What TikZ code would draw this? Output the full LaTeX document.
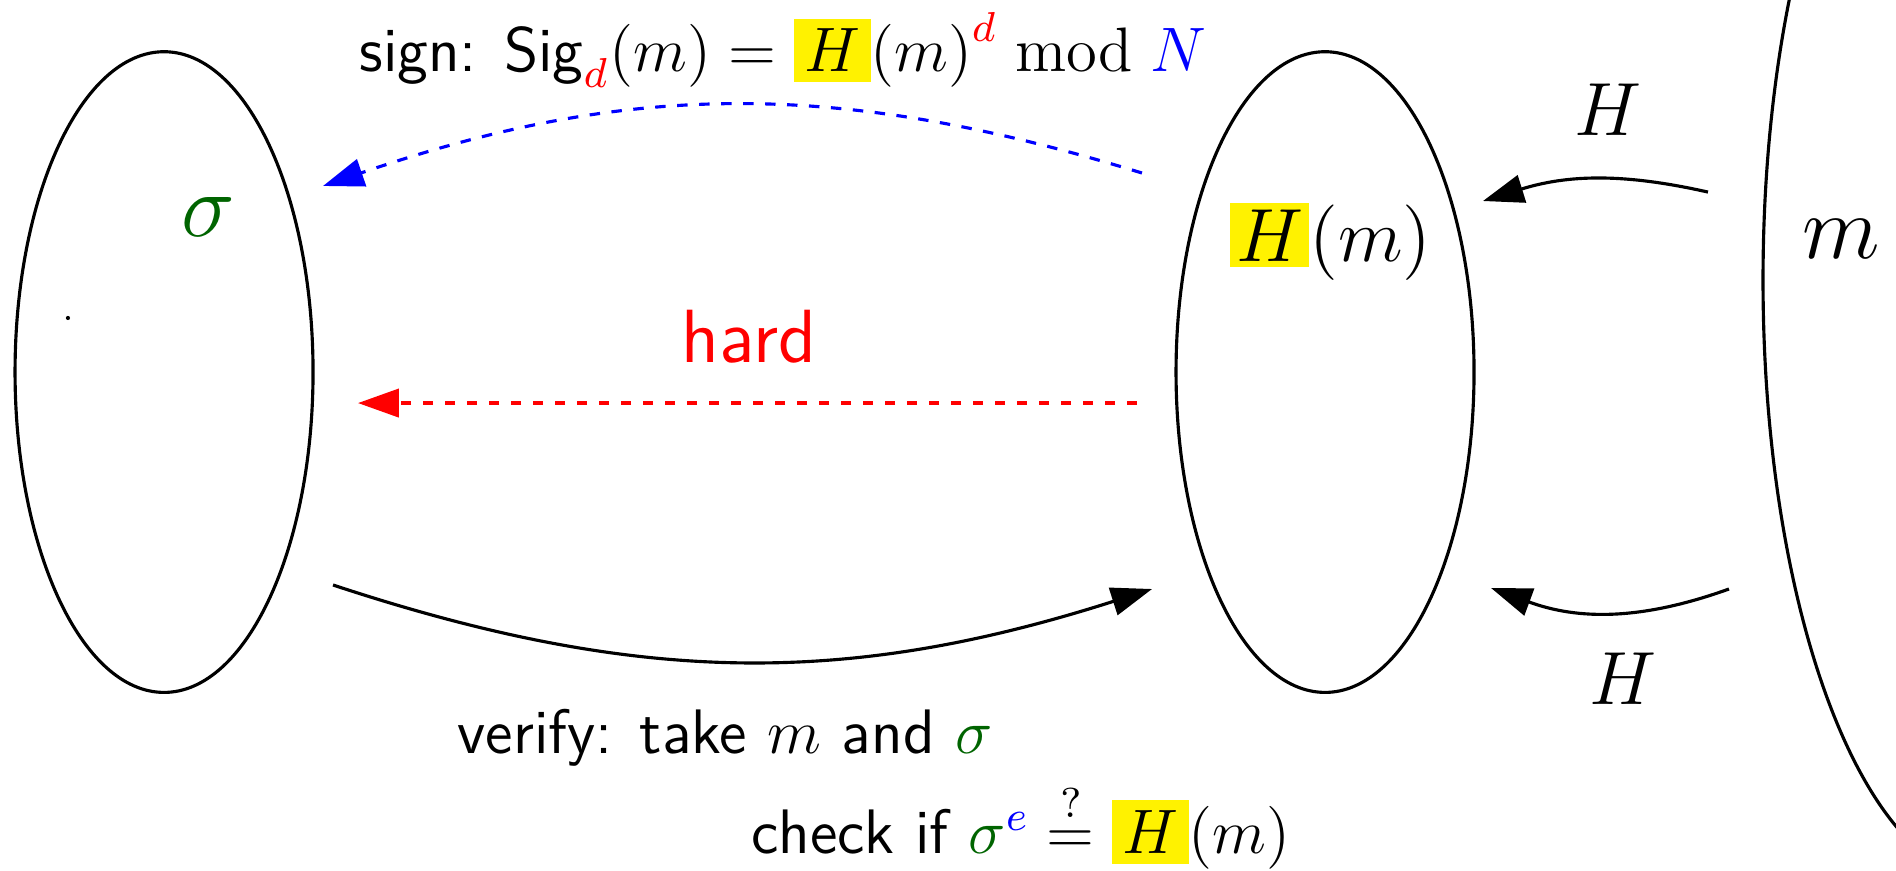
\documentclass[tikz,border=0pt]{standalone}
\usepackage{amsmath,amssymb}
\usepackage{xcolor}
\usetikzlibrary{shapes.geometric,arrows.meta}

\definecolor{sigcol}{RGB}{0,100,0}
% yellow highlight for the hash value
\newcommand{\hlbox}[2][2pt]{{\setlength{\fboxsep}{#1}\colorbox{yellow}{$#2$}}}

\begin{document}
\begin{tikzpicture}[
    set/.style={draw, ellipse, line width=0.6pt},
    link/.style={line width=0.6pt, -{Triangle[length=7.8pt,width=5.4pt]}},
    dashlink/.style={link, dash pattern=on 2pt off 2.2pt},
    lbl/.style={anchor=base, inner sep=0pt},
  ]
  \useasboundingbox (0,0) rectangle (12.725,5.839);

  % Sets: signatures, hash values, messages
  \node[set, minimum width=2cm, minimum height=4.3cm] (sigs) at (1.101,3.342) {};
  \node[set, minimum width=2cm, minimum height=4.3cm] (hashes) at (8.893,3.342) {};
  \node[set, minimum width=3.047cm, minimum height=8.054cm] (msgs) at (13.356,3.960) {};
  \fill (0.456,3.705) circle (0.4pt);

  % Labels inside the sets
  \node[lbl, font=\LARGE, text=sigcol] (sig) at (1.396,4.255) {$\sigma$};
  \node[lbl, font=\Large] (hm) at (8.93,4.087) {$\hlbox[1.2pt]{H}(m)$};
  \node[lbl, font=\LARGE] (msg) at (12.356,4.107) {$m$};

  % End points of the arrows
  \coordinate (signS) at (7.664,4.678);
  \coordinate (signE) at (2.168,4.591);
  \coordinate (hardS) at (7.631,3.134);
  \coordinate (hardE) at (2.403,3.134);
  \coordinate (verS) at (2.235,1.913);
  \coordinate (verE) at (7.732,1.886);
  \coordinate (hupS) at (11.463,4.550);
  \coordinate (hupE) at (9.953,4.490);
  \coordinate (hdnS) at (11.604,1.886);
  \coordinate (hdnE) at (10.007,1.893);

  % Arrows
  \draw[dashlink, blue] (signS) to[bend right=18] (signE);
  \draw[dashlink, red] (hardS) -- (hardE);
  \draw[link] (verS) to[bend right=18] (verE);
  \draw[link] (hupS) to[bend right=15] (hupE);
  \draw[link] (hdnS) to[bend left=20] (hdnE);

  % Annotations
  \node[lbl, font=\sffamily\large] (sign) at (5.255,5.356)
    {sign: $\textsf{Sig}_{\color{red}d}(m) = \hlbox{H}{\left(m\right)}^{\color{red}d} \bmod {\color{blue}N}$};
  \node[lbl, font=\sffamily\Large, text=red] (hard) at (5.027,3.409) {hard};
  \node[lbl, font=\sffamily\large] (verify) at (4.866,0.785)
    {verify: take $m$ and ${\color{sigcol}\sigma}$};
  \node[lbl, font=\sffamily\large] (check) at (6.852,0.114)
    {check if ${\color{sigcol}\sigma}^{\color{blue}e} \stackrel{?}{=} \hlbox{H}(m)$};
  \node[lbl, font=\Large] (hup) at (10.792,4.933) {$H$};
  \node[lbl, font=\Large] (hdn) at (10.893,1.114) {$H$};
\end{tikzpicture}
\end{document}
